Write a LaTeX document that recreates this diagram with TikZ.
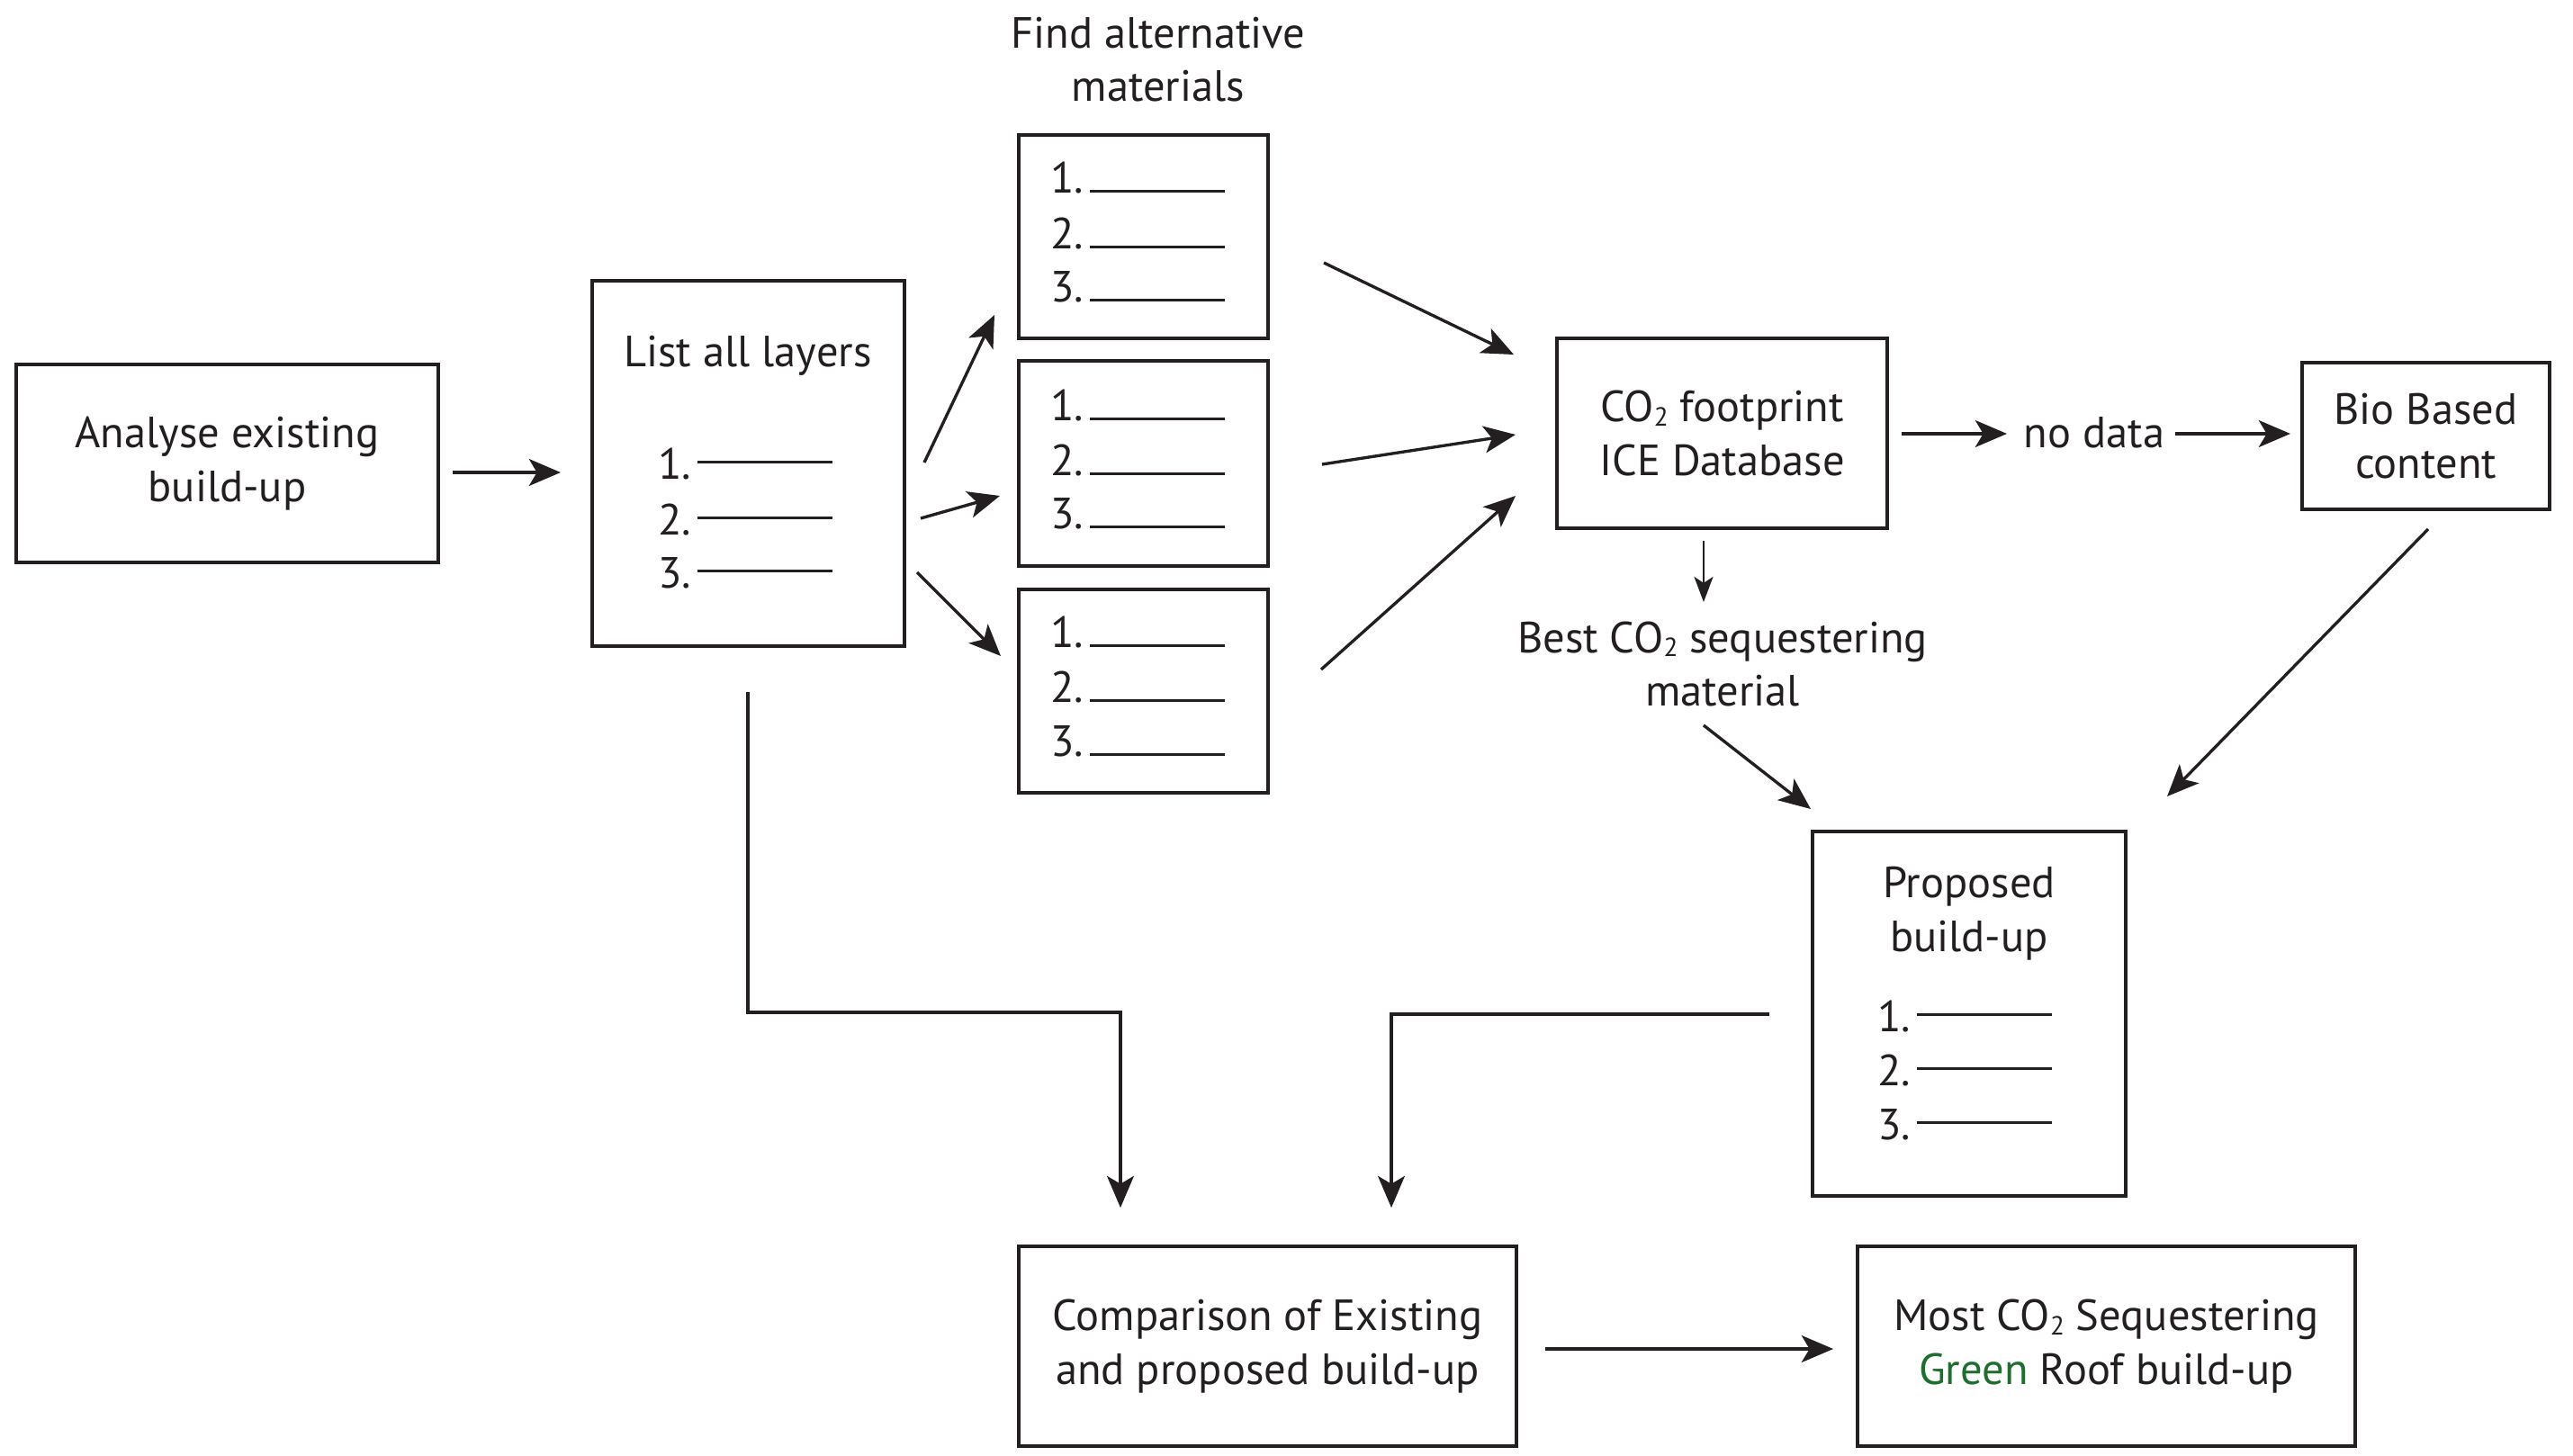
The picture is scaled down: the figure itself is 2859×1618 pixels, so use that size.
\documentclass[tikz,border=0pt]{standalone}
\usepackage{fontspec}
\setmainfont{PT Sans}
\usetikzlibrary{arrows.meta}
\definecolor{ink}{RGB}{35,31,32}
\definecolor{leaf}{RGB}{30,110,45}
\newcommand\cotwo{CO\raisebox{-0.2ex}{\scalebox{0.6}{2}}}
\newcommand\itemrule[2]{#1\hspace{2pt}\rule[#2]{1.5cm}{0.9pt}}
\begin{document}
\begin{tikzpicture}[x=0.01cm,y=-0.01cm,
  font=\fontsize{13.8}{17}\selectfont,
  every node/.style={text=ink},
  box/.style={draw=ink, line width=1.15pt, inner sep=0pt, align=center},
  lbl/.style={align=center, inner sep=0pt},
  midnum/.style={inner sep=0pt, anchor=base east},
  basenum/.style={inner sep=0pt, anchor=base east},
  arr/.style={draw=ink, line width=0.95pt, -{Stealth[length=10pt,width=8.5pt,inset=2.5pt]}},
  thinarr/.style={draw=ink, line width=0.6pt, -{Stealth[length=8pt,width=6pt,inset=2pt]}},
  plainline/.style={draw=ink, line width=0.9pt}]
\useasboundingbox (0,0) rectangle (2859,1618);

% boxes
\node[box, minimum width=4.69cm, minimum height=2.2cm] (analyse) at (252.5,515) {Analyse existing\\build-up};
\node[box, minimum width=3.47cm, minimum height=4.06cm] (list) at (831.5,515) {};
\node[box, minimum width=2.77cm, minimum height=2.26cm] (alt1) at (1270.5,263) {};
\node[box, minimum width=2.77cm, minimum height=2.28cm] (alt2) at (1270.5,515) {};
\node[box, minimum width=2.77cm, minimum height=2.26cm] (alt3) at (1270.5,768) {};
\node[box, minimum width=3.67cm, minimum height=2.11cm] (co2) at (1913.5,481.5) {\cotwo{} footprint\\ICE Database};
\node[box, minimum width=2.74cm, minimum height=1.63cm] (bio) at (2695.5,484.5) {Bio Based\\content};
\node[box, minimum width=3.47cm, minimum height=4.05cm] (prop) at (2188,1126.5) {};
\node[box, minimum width=5.52cm, minimum height=2.22cm] (comp) at (1408.5,1496) {Comparison of Existing\\and proposed build-up};
\node[box, minimum width=5.52cm, minimum height=2.22cm] (most) at (2340.5,1496) {Most \cotwo{} Sequestering\\\textcolor{leaf}{Green} Roof build-up};

% free labels
\node[lbl] (findalt) at (1287,66) {Find alternative\\materials};
\node[lbl] (nodata) at (2327,481) {no data};
\node[lbl] (best) at (1914,738) {Best \cotwo{} sequestering\\material};
\node[lbl] (listtitle) at (831,395) {List all layers};
\node[lbl] (proptitle) at (2188,1015) {Proposed\\build-up};

% list items
\node[midnum] (l1) at (926,532) {\itemrule{1.}{4.7pt}};
\node[midnum] (l2) at (926,594) {\itemrule{2.}{4.7pt}};
\node[midnum] (l3) at (926,653) {\itemrule{3.}{4.7pt}};

\node[basenum] (a11) at (1362,214) {\itemrule{1.}{0pt}};
\node[basenum] (a12) at (1362,276) {\itemrule{2.}{0pt}};
\node[basenum] (a13) at (1362,335) {\itemrule{3.}{0pt}};
\node[basenum] (a21) at (1362,467) {\itemrule{1.}{0pt}};
\node[basenum] (a22) at (1362,528) {\itemrule{2.}{0pt}};
\node[basenum] (a23) at (1362,587) {\itemrule{3.}{0pt}};
\node[basenum] (a31) at (1362,719) {\itemrule{1.}{0pt}};
\node[basenum] (a32) at (1362,780) {\itemrule{2.}{0pt}};
\node[basenum] (a33) at (1362,840) {\itemrule{3.}{0pt}};

\node[midnum] (p1) at (2281,1146) {\itemrule{1.}{4.7pt}};
\node[midnum] (p2) at (2281,1206) {\itemrule{2.}{4.7pt}};
\node[midnum] (p3) at (2281,1266) {\itemrule{3.}{4.7pt}};

% connector ends
\coordinate (c1s) at (503,525);   \coordinate (c1e) at (623,525);
\coordinate (c2s) at (1027,514);  \coordinate (c2e) at (1105,350);
\coordinate (c3s) at (1023,576);  \coordinate (c3e) at (1111,551);
\coordinate (c4s) at (1019,636);  \coordinate (c4e) at (1112,729);
\coordinate (c5s) at (1471,292);  \coordinate (c5e) at (1682,394);
\coordinate (c6s) at (1469,516);  \coordinate (c6e) at (1684,483);
\coordinate (c7s) at (1468,744);  \coordinate (c7e) at (1684,551);
\coordinate (c8s) at (2113,482);  \coordinate (c8e) at (2230,482);
\coordinate (c9s) at (2417,482);  \coordinate (c9e) at (2545,482);
\coordinate (c10s) at (1893,601); \coordinate (c10e) at (1893,669);
\coordinate (c11s) at (1893,806); \coordinate (c11e) at (2012,899);
\coordinate (c12s) at (2698,588); \coordinate (c12e) at (2408,885);
\coordinate (c13s) at (831,769);  \coordinate (c13e) at (1245,1342);
\coordinate (c14s) at (1966,1127);\coordinate (c14e) at (1546,1342);
\coordinate (c15s) at (1717,1499);\coordinate (c15e) at (2037,1499);

% connectors
\draw[arr] (c1s) -- (c1e);
\draw[arr] (c2s) -- (c2e);
\draw[arr] (c3s) -- (c3e);
\draw[arr] (c4s) -- (c4e);
\draw[arr] (c5s) -- (c5e);
\draw[arr] (c6s) -- (c6e);
\draw[arr] (c7s) -- (c7e);
\draw[arr] (c8s) -- (c8e);
\draw[arr] (c9s) -- (c9e);
\draw[thinarr] (c10s) -- (c10e);
\draw[arr] (c11s) -- (c11e);
\draw[arr] (c12s) -- (c12e);
\draw[arr] (c13s) -- (831,1125) -- (1245,1125) -- (c13e);
\draw[arr] (c14s) -- (1546,1127) -- (c14e);
\draw[arr] (c15s) -- (c15e);
\end{tikzpicture}
\end{document}
